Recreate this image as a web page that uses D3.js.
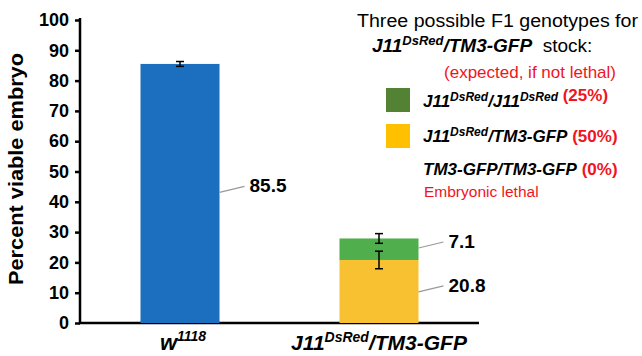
<!DOCTYPE html>
<html>
<head>
<meta charset="utf-8">
<script src="https://cdn.jsdelivr.net/npm/d3@7"></script>
<style>
  body { margin: 0; background: #fff; }
  svg { font-family: "Liberation Sans", Arial, sans-serif; }
</style>
</head>
<body>
<svg width="642" height="356"></svg>
<script>
// data
const categories = ["w1118", "J11/TM3"];
const baseValues = [85.5, 20.8];      // blue bar, yellow part
const topValues = [0, 7.1];           // green part
const baseErr = [0.8, 2.9];
const topErr = [0, 1.6];
const yTicks = [0, 10, 20, 30, 40, 50, 60, 70, 80, 90, 100];

const svg = d3.select("svg");

const x = d3.scaleBand()
    .domain(categories)
    .range([80, 479])
    .paddingInner(0.603)
    .paddingOuter(0.304);

const y = d3.scaleLinear()
    .domain([0, 100])
    .range([323, 20]);

// y axis
const yAxis = svg.append("g")
    .attr("transform", "translate(80,0)")
    .call(d3.axisLeft(y).tickValues(yTicks).tickSize(5).tickPadding(6));
yAxis.select(".domain").attr("stroke", "#000").attr("stroke-width", 2.5).attr("d", "M0,18V324");
yAxis.selectAll(".tick line").attr("stroke", "#000").attr("stroke-width", 2.5);
yAxis.selectAll(".tick text")
    .attr("font-size", 18).attr("font-weight", "bold").attr("fill", "#000")
    .attr("font-family", "Liberation Sans, Arial, sans-serif");

// x axis line
svg.append("line")
    .attr("x1", 79).attr("x2", 479)
    .attr("y1", y(0)).attr("y2", y(0))
    .attr("stroke", "#000").attr("stroke-width", 2.5);

// y title
svg.append("text")
    .attr("transform", "translate(23,169) rotate(-90)")
    .attr("text-anchor", "middle")
    .attr("font-size", 20).attr("font-weight", "bold")
    .attr("textLength", 232).attr("lengthAdjust", "spacingAndGlyphs")
    .text("Percent viable embryo");

// bars
const baseColors = ["#1c6ebf", "#f8c132"];
categories.forEach((c, i) => {
    svg.append("rect")
        .attr("x", x(c)).attr("width", x.bandwidth())
        .attr("y", y(baseValues[i]))
        .attr("height", y(0) - y(baseValues[i]))
        .attr("fill", baseColors[i]);
    if (topValues[i] > 0) {
        svg.append("rect")
            .attr("x", x(c)).attr("width", x.bandwidth())
            .attr("y", y(baseValues[i] + topValues[i]))
            .attr("height", y(baseValues[i]) - y(baseValues[i] + topValues[i]))
            .attr("fill", "#50ae4d");
    }
});

// error bars
function errBar(cx, val, err) {
    const g = svg.append("g").attr("stroke", "#000").attr("stroke-width", 1.5);
    g.append("line").attr("x1", cx).attr("x2", cx).attr("y1", y(val + err)).attr("y2", y(val - err));
    g.append("line").attr("x1", cx - 4).attr("x2", cx + 4).attr("y1", y(val + err)).attr("y2", y(val + err));
    g.append("line").attr("x1", cx - 4).attr("x2", cx + 4).attr("y1", y(val - err)).attr("y2", y(val - err));
}
categories.forEach((c, i) => {
    const cx = x(c) + x.bandwidth() / 2;
    errBar(cx, baseValues[i], baseErr[i]);
    if (topValues[i] > 0) errBar(cx, baseValues[i] + topValues[i], topErr[i]);
});

// value labels with leader lines
function valueLabel(c, yAnchor, text) {
    const xr = x(c) + x.bandwidth();
    const ya = y(yAnchor);
    svg.append("path")
        .attr("d", `M${xr},${ya + 8} L${xr + 25},${ya + 2}`)
        .attr("stroke", "#999").attr("stroke-width", 1.2).attr("fill", "none");
    svg.append("text")
        .attr("x", xr + 30).attr("y", ya + 8)
        .attr("font-size", 19).attr("font-weight", "bold")
        .text(text);
}
valueLabel(categories[0], baseValues[0] / 2 + 3, baseValues[0].toFixed(1));
valueLabel(categories[1], baseValues[1] / 2 + 2.5, baseValues[1].toFixed(1));
valueLabel(categories[1], baseValues[1] + topValues[1] - 0.5, topValues[1].toFixed(1));

// x category labels
const xl0 = svg.append("text")
    .attr("x", x(categories[0]) + x.bandwidth() / 2 + 3).attr("y", 350)
    .attr("text-anchor", "middle")
    .attr("font-size", 22).attr("font-weight", "bold").attr("font-style", "italic");
xl0.append("tspan").text("w");
xl0.append("tspan").attr("font-size", 14).attr("dy", -9).text("1118");

const xl1 = svg.append("text")
    .attr("x", x(categories[1]) + x.bandwidth() / 2).attr("y", 350)
    .attr("text-anchor", "middle")
    .attr("font-size", 21).attr("font-weight", "bold").attr("font-style", "italic");
xl1.append("tspan").text("J11");
xl1.append("tspan").attr("font-size", 14).attr("dy", -8).text("DsRed");
xl1.append("tspan").attr("dy", 8).text("/TM3-GFP");

// legend
svg.append("text")
    .attr("x", 357).attr("y", 27)
    .attr("font-size", 18)
    .attr("textLength", 281).attr("lengthAdjust", "spacingAndGlyphs")
    .text("Three possible F1 genotypes for");

const l2 = svg.append("text")
    .attr("x", 372).attr("y", 52).attr("font-size", 19);
l2.append("tspan").attr("font-weight", "bold").attr("font-style", "italic").text("J11");
l2.append("tspan").attr("font-weight", "bold").attr("font-style", "italic").attr("font-size", 13).attr("dy", -7).text("DsRed");
l2.append("tspan").attr("font-weight", "bold").attr("font-style", "italic").attr("dy", 7).text("/TM3-GFP");
l2.append("tspan").text("\u00a0 stock:");

svg.append("text")
    .attr("x", 616).attr("y", 78).attr("text-anchor", "end")
    .attr("font-size", 17).attr("fill", "#f0141e")
    .text("(expected, if not lethal)");

const legendSwatches = ["#548235", "#ffc000"];
const legendY = [88, 124];
legendSwatches.forEach((col, i) => {
    svg.append("rect")
        .attr("x", 386).attr("y", legendY[i])
        .attr("width", 24).attr("height", 24)
        .attr("fill", col);
});

function legendText(yb, parts, pct) {
    const t = svg.append("text").attr("x", 423).attr("y", yb)
        .attr("font-size", 17).attr("font-weight", "bold").attr("font-style", "italic");
    parts.forEach(p => {
        const ts = t.append("tspan").text(p.t);
        if (p.sup) ts.attr("font-size", 12).attr("dy", -6);
        if (p.down) ts.attr("dy", 6);
    });
    t.append("tspan").attr("font-style", "normal").attr("fill", "#f0141e").text(" " + pct);
}
legendText(107, [{t: "J11"}, {t: "DsRed", sup: true}, {t: "/J11", down: true}, {t: "DsRed", sup: true}], "(25%)");
legendText(142, [{t: "J11"}, {t: "DsRed", sup: true}, {t: "/TM3-GFP", down: true}], "(50%)");
legendText(175, [{t: "TM3-GFP/TM3-GFP"}], "(0%)");

svg.append("text")
    .attr("x", 424).attr("y", 197)
    .attr("font-size", 15.5).attr("fill", "#f0141e")
    .text("Embryonic lethal");
</script>
</body>
</html>
